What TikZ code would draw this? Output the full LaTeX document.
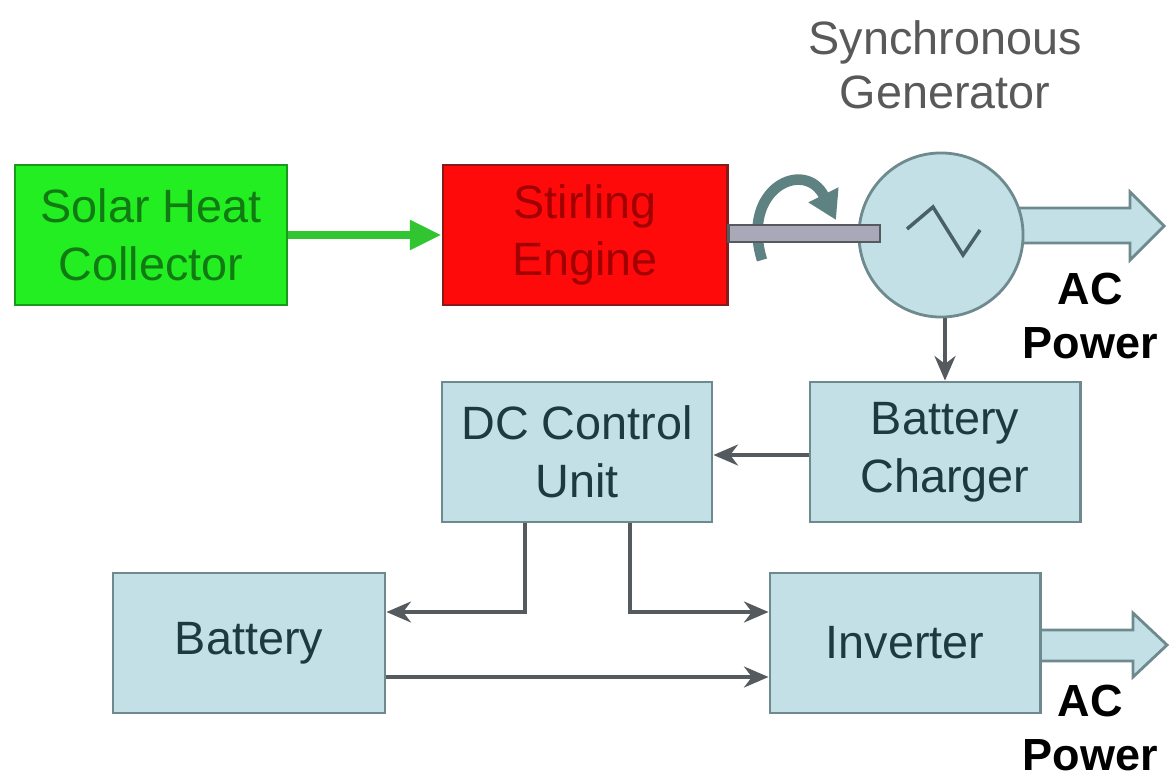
\documentclass[tikz,border=0pt]{standalone}
\usepackage{fontspec}
\setmainfont{Liberation Sans}
\usetikzlibrary{arrows.meta,calc}

\definecolor{boxblue}{HTML}{C2E0E6}
\definecolor{boxline}{HTML}{6E8A8E}
\definecolor{boxtext}{HTML}{1C3A40}
\definecolor{connline}{HTML}{555A5E}
\definecolor{solarfill}{HTML}{22EE22}
\definecolor{solarline}{HTML}{1A9A1A}
\definecolor{solartext}{HTML}{127A12}
\definecolor{enginefill}{HTML}{FF0A0A}
\definecolor{engineline}{HTML}{8A1A1A}
\definecolor{enginetext}{HTML}{A00000}
\definecolor{shaftfill}{HTML}{A8A8B8}
\definecolor{rotline}{HTML}{5E8282}

\tikzset{
  block/.style={draw=boxline, fill=boxblue, line width=0.8pt,
    minimum width=2.7cm, minimum height=1.4cm, align=center,
    text=boxtext, inner sep=2pt,
    font=\fontsize{13.3}{16.4}\selectfont},
  conn/.style={draw=connline, line width=0.9pt,
    -{Stealth[length=7pt,width=6pt]}},
  heat/.style={draw=solarfill!80!black!90, line width=2.2pt,
    -{Triangle[length=9pt,width=8pt]}},
  acarrow/.style={draw=boxline, fill=boxblue, line width=0.8pt},
  aclabel/.style={align=center, text=black,
    font=\bfseries\fontsize{12.8}{15.2}\selectfont}
}

\begin{document}
\begin{tikzpicture}[x=0.01cm,y=-0.01cm]

\useasboundingbox
(0,0)
rectangle
(1170,779);

% Sortie AC haute
\draw[acarrow]
(1000,208) -- (1130,208) -- (1130,192) -- (1164,226)
-- (1130,260) -- (1130,243) -- (1000,243) -- cycle;

% Sortie AC basse
\draw[acarrow]
(1040,630) -- (1133,630) -- (1133,613) -- (1167,645)
-- (1133,677) -- (1133,661) -- (1040,661) -- cycle;

% Blocs
\node[block, fill=solarfill, draw=solarline, text=solartext,
  minimum width=2.72cm] (solar) at (151,235)
{Solar Heat\\Collector};

\node[block, fill=enginefill, draw=engineline, text=enginetext,
  minimum width=2.84cm] (stirling) at (585,235)
{Stirling\\Engine};

\node[block] (chg) at (945,452)
{Battery\\Charger};

\node[block] (dc) at (577,452)
{DC Control\\Unit};

\node[block, minimum width=2.72cm] (bat) at (249,643)
{Battery};

\node[block] (inv) at (905,643)
{Inverter};

% Rotation
\draw[rotline, line width=3pt, -{Triangle[length=8pt,width=9pt]}]
(762,260)
.. controls (740,188) and (805,158) ..
(836,220);

% Generateur
\node[circle, draw=boxline, fill=boxblue, line width=0.8pt,
  minimum size=1.64cm, inner sep=0pt] (gen) at (941,235) {};

\draw[boxtext!80, line width=1pt]
(907,229) -- (933,207) -- (963,255) -- (980,230);

% Arbre
\fill[shaftfill, draw=connline, line width=0.6pt]
(stirling.east |- 0,225)
rectangle
(880,242);

% Textes
\node[align=center, text=black!65,
  font=\fontsize{13.3}{15.4}\selectfont] (genlabel) at (945,65)
{Synchronous\\Generator};

\node[aclabel] (actop) at (1090,316)
{AC\\Power};

\node[aclabel] (acbot) at (1090,728)
{AC\\Power};

% Liaisons
\draw[heat]
(solar.east)
--
(stirling.west);

\draw[conn]
(gen.south -| chg.north)
--
(chg.north);

\draw[conn]
(chg.west |- 0,455)
--
(dc.east |- 0,455);

\draw[conn]
($(dc.south)+(-52,0)$)
|-
($(bat.east)+(0,-31)$);

\draw[conn]
($(dc.south)+(53,0)$)
|-
($(inv.west)+(0,-31)$);

\draw[conn]
($(bat.east)+(0,34)$)
--
($(inv.west)+(0,34)$);

\end{tikzpicture}
\end{document}
